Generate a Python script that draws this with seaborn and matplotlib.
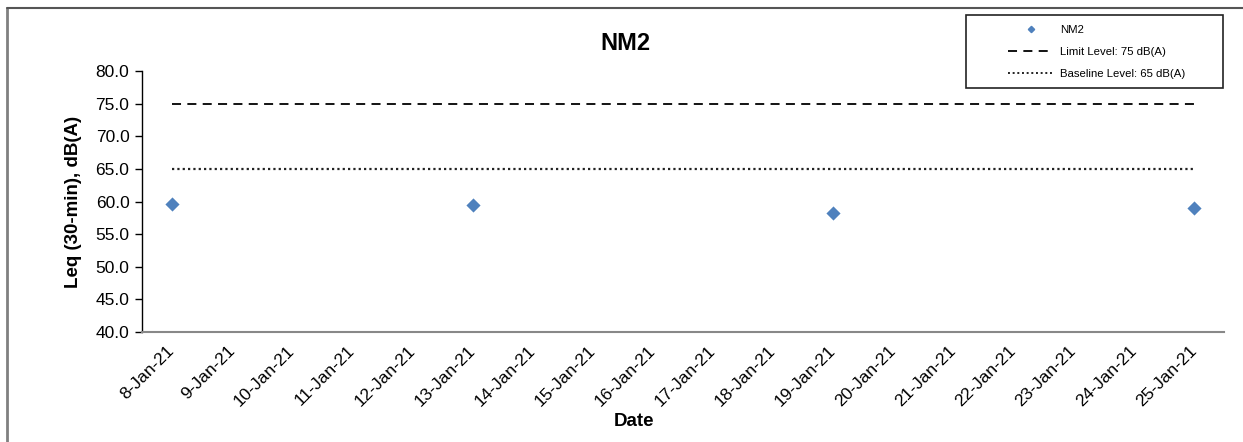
import matplotlib
matplotlib.use("Agg")
import matplotlib.pyplot as plt
from matplotlib.lines import Line2D
from matplotlib.patches import Rectangle
import seaborn as sns
import pandas as pd

# ---- data ----
categories = ["8-Jan-21", "9-Jan-21", "10-Jan-21", "11-Jan-21", "12-Jan-21",
              "13-Jan-21", "14-Jan-21", "15-Jan-21", "16-Jan-21", "17-Jan-21",
              "18-Jan-21", "19-Jan-21", "20-Jan-21", "21-Jan-21", "22-Jan-21",
              "23-Jan-21", "24-Jan-21", "25-Jan-21"]
meas_dates = ["8-Jan-21", "13-Jan-21", "19-Jan-21", "25-Jan-21"]
meas_values = [59.6, 59.4, 58.2, 59.0]
limit_level = 75
baseline_level = 65
y_ticks = [40, 45, 50, 55, 60, 65, 70, 75, 80]

sns.set_theme(style="white")
plt.rcParams['font.family'] = ['Liberation Sans', 'DejaVu Sans']
plt.rcParams['text.color'] = 'black'
plt.rcParams['axes.labelcolor'] = 'black'
plt.rcParams['xtick.color'] = 'black'
plt.rcParams['ytick.color'] = 'black'

pos = {c: i for i, c in enumerate(categories)}
df_meas = pd.DataFrame({"x": [pos[d] for d in meas_dates], "y": meas_values})
df_lines = pd.DataFrame({
    "x": [pos[categories[0]], pos[categories[-1]]] * 2,
    "y": [limit_level, limit_level, baseline_level, baseline_level],
    "series": ["limit", "limit", "base", "base"],
})

fig = plt.figure(figsize=(12.43, 4.42), dpi=100)
W, H = 1243, 442
ax = fig.add_axes([142 / W, 1 - 332 / H, (1224 - 142) / W, (332 - 71) / H])

blue = "#4F81BD"
lim = df_lines[df_lines.series == "limit"]
base = df_lines[df_lines.series == "base"]
sns.lineplot(data=lim, x="x", y="y", ax=ax, color="black", lw=1.3,
             linestyle=(0, (5, 3.5)), legend=False)
sns.lineplot(data=base, x="x", y="y", ax=ax, color="#222222", lw=1.6,
             linestyle=(0, (1, 1.4)), legend=False)
sns.scatterplot(data=df_meas, x="x", y="y", ax=ax, color=blue, marker="D",
                s=52, edgecolor=blue, linewidth=0, zorder=5, legend=False)

ax.set_xlim(-0.5, len(categories) - 0.5)
ax.set_ylim(40, 80)
ax.set_yticks(y_ticks)
ax.set_yticklabels([f"{v:.1f}" for v in y_ticks], fontsize=12.5)
ax.set_xticks(range(len(categories)))
ax.set_xticklabels(categories, rotation=45, ha="right", va="center",
                   rotation_mode="anchor", fontsize=12.5)
ax.set_xticks([i - 0.5 for i in range(len(categories) + 1)], minor=True)
ax.tick_params(axis="x", which="major", length=0, pad=12)
ax.tick_params(axis="x", which="minor", length=5, width=1.2, color="#888888", direction="out")
ax.tick_params(axis="y", length=5, width=1.0, color="black", direction="out", pad=4, left=True)

for s in ["top", "right"]:
    ax.spines[s].set_visible(False)
ax.spines["left"].set_color("black")
ax.spines["left"].set_linewidth(1.0)
ax.spines["bottom"].set_color("#888888")
ax.spines["bottom"].set_linewidth(1.5)
ax.grid(False)

ax.set_xlabel("Date", fontsize=13.5, fontweight="bold", labelpad=0)
ax.xaxis.set_label_coords(0.455, -0.31)
ax.set_ylabel("Leq (30-min), dB(A)", fontsize=13.5, fontweight="bold", labelpad=10)
fig.text(625 / W, 1 - 44 / H, "NM2", ha="center", va="center",
         fontsize=17, fontweight="bold")

# legend
handles = [
    Line2D([], [], color=blue, marker="D", linestyle="none", markersize=3.2),
    Line2D([], [], color="black", lw=1.3, linestyle=(0, (5, 3.5))),
    Line2D([], [], color="#222222", lw=1.4, linestyle=(0, (1, 1.4))),
]
labels = ["NM2", f"Limit Level: {limit_level} dB(A)", f"Baseline Level: {baseline_level} dB(A)"]
leg = fig.legend(handles, labels, loc="upper left",
                 bbox_to_anchor=(1000 / W, 1 - 17.5 / H), frameon=False,
                 fontsize=8.2, handlelength=4.0, handletextpad=0.55,
                 labelspacing=1.02, borderpad=0.2)
fig.add_artist(Rectangle((966 / W, 1 - 88 / H), (1223 - 966) / W, (88 - 15) / H,
                         transform=fig.transFigure, fill=False,
                         edgecolor="#222222", lw=1.2))

# outer chart frame (top and left)
fig.add_artist(Line2D([7 / W, 7 / W], [0, 1 - 8 / H], transform=fig.transFigure,
                      color="#808080", lw=2))
fig.add_artist(Line2D([7 / W, 1.0], [1 - 8 / H, 1 - 8 / H], transform=fig.transFigure,
                      color="#555555", lw=1.5))

fig.savefig("out.png", dpi=100)
